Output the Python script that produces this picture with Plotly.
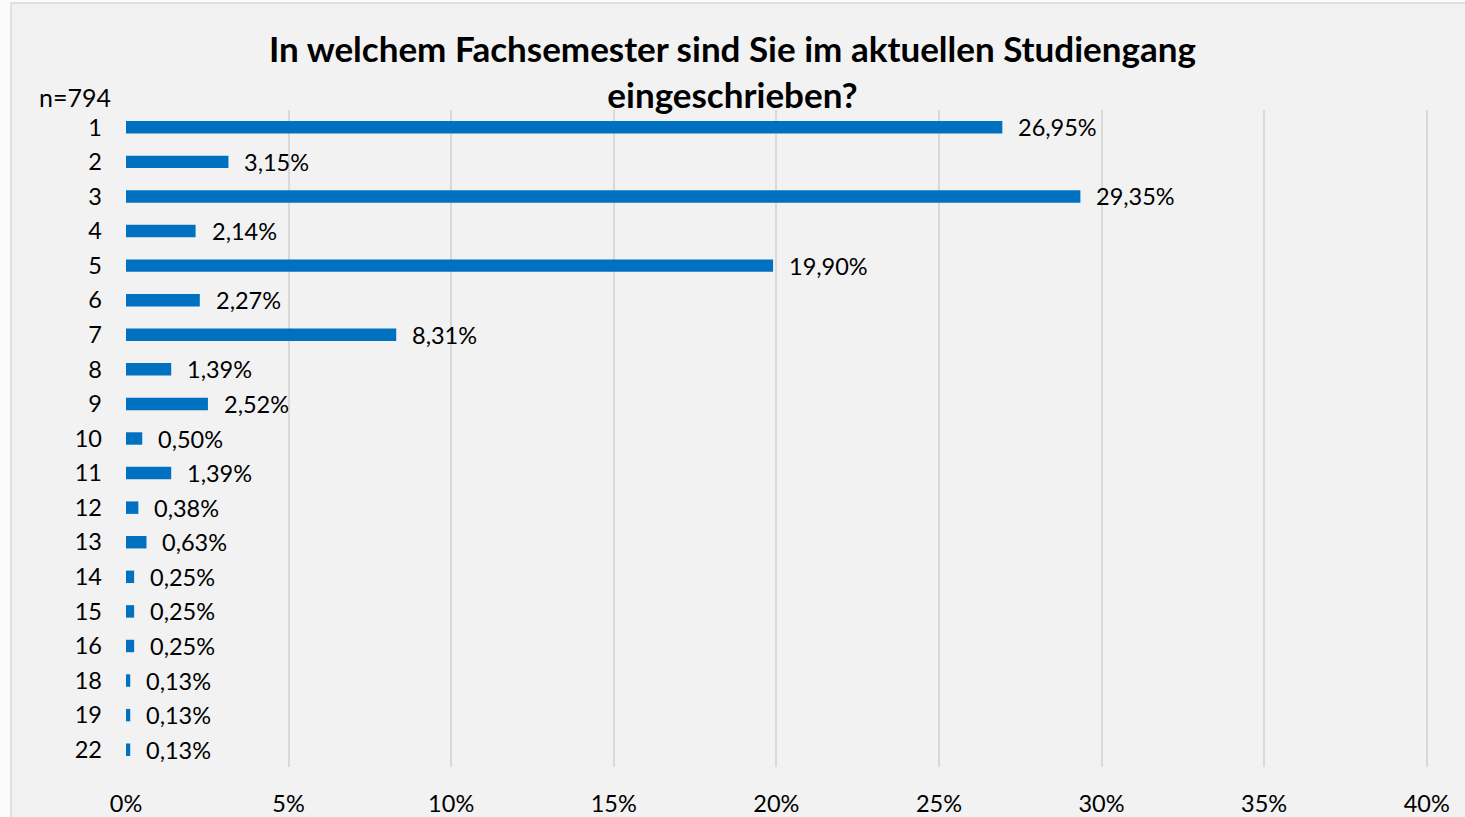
import plotly.graph_objects as go

semesters = ["1", "2", "3", "4", "5", "6", "7", "8", "9", "10", "11", "12", "13", "14", "15", "16", "18", "19", "22"]
shares = [26.95, 3.15, 29.35, 2.14, 19.90, 2.27, 8.31, 1.39, 2.52, 0.50, 1.39, 0.38, 0.63, 0.25, 0.25, 0.25, 0.13, 0.13, 0.13]
x_ticks = [0, 5, 10, 15, 20, 25, 30, 35, 40]
title_text = "In welchem Fachsemester sind Sie im aktuellen Studiengang<br>eingeschrieben?"
n_text = "n=794"

W, H = 1465, 817
ML, MR, MT, MB = 126, 37, 110, 50
PW, PH = W - ML - MR, H - MT - MB

FONT = "Lato"
BLUE = "#0070c0"
FS = 23.5

fig = go.Figure()
fig.add_trace(go.Bar(
    x=shares, y=semesters, orientation="h",
    marker=dict(color=BLUE, line=dict(width=0)),
    width=0.36, hoverinfo="skip",
))

for i, v in enumerate(shares):
    fig.add_annotation(
        x=v, y=i, xref="x", yref="y",
        text=f"{v:.2f}".replace(".", ",") + "%",
        showarrow=False, xanchor="left", yanchor="middle", xshift=14,
        font=dict(family=FONT, size=FS, color="#000000"),
    )

fig.add_annotation(
    x=(113 - ML) / PW, y=(MT + PH - 97) / PH, xref="paper", yref="paper",
    text=n_text, showarrow=False, xanchor="right", yanchor="middle",
    font=dict(family=FONT, size=25, color="#000000"),
)

# chart area background with border
fig.add_shape(
    type="rect", xref="paper", yref="paper", layer="below",
    x0=(11 - ML) / PW, x1=(W + 5 - ML) / PW,
    y0=(MT + PH - (H + 5)) / PH, y1=(MT + PH - 3) / PH,
    fillcolor="#f2f2f2", line=dict(color="#d9d9d9", width=1.5),
)

fig.update_layout(
    width=W, height=H,
    margin=dict(l=ML, r=MR, t=MT, b=MB, autoexpand=False),
    paper_bgcolor="#fbfbfb", plot_bgcolor="rgba(0,0,0,0)",
    showlegend=False, bargap=0.64,
    title=dict(
        text="<b>" + title_text + "</b>",
        x=0.5, xref="container", xanchor="center",
        y=1 - 62 / H, yref="container", yanchor="middle",
        font=dict(family=FONT, size=35, color="#000000"),
    ),
    xaxis=dict(
        range=[0, 40.04], tickvals=x_ticks, ticktext=[f"{t}%" for t in x_ticks],
        showgrid=True, gridcolor="#d9d9d9", gridwidth=1.5,
        zeroline=False, showline=False, ticks="",
        ticklabelstandoff=20,
        tickfont=dict(family=FONT, size=FS, color="#000000"),
        fixedrange=True,
    ),
    yaxis=dict(
        type="category", categoryorder="array", categoryarray=semesters,
        autorange="reversed", showgrid=False, zeroline=False, showline=False,
        ticks="", ticklabelstandoff=23,
        tickfont=dict(family=FONT, size=FS, color="#000000"),
        fixedrange=True,
    ),
)

fig.write_html(
    "out.html",
    config={"displayModeBar": False},
    post_script="document.body.style.margin='0';document.body.style.overflow='hidden';",
)
